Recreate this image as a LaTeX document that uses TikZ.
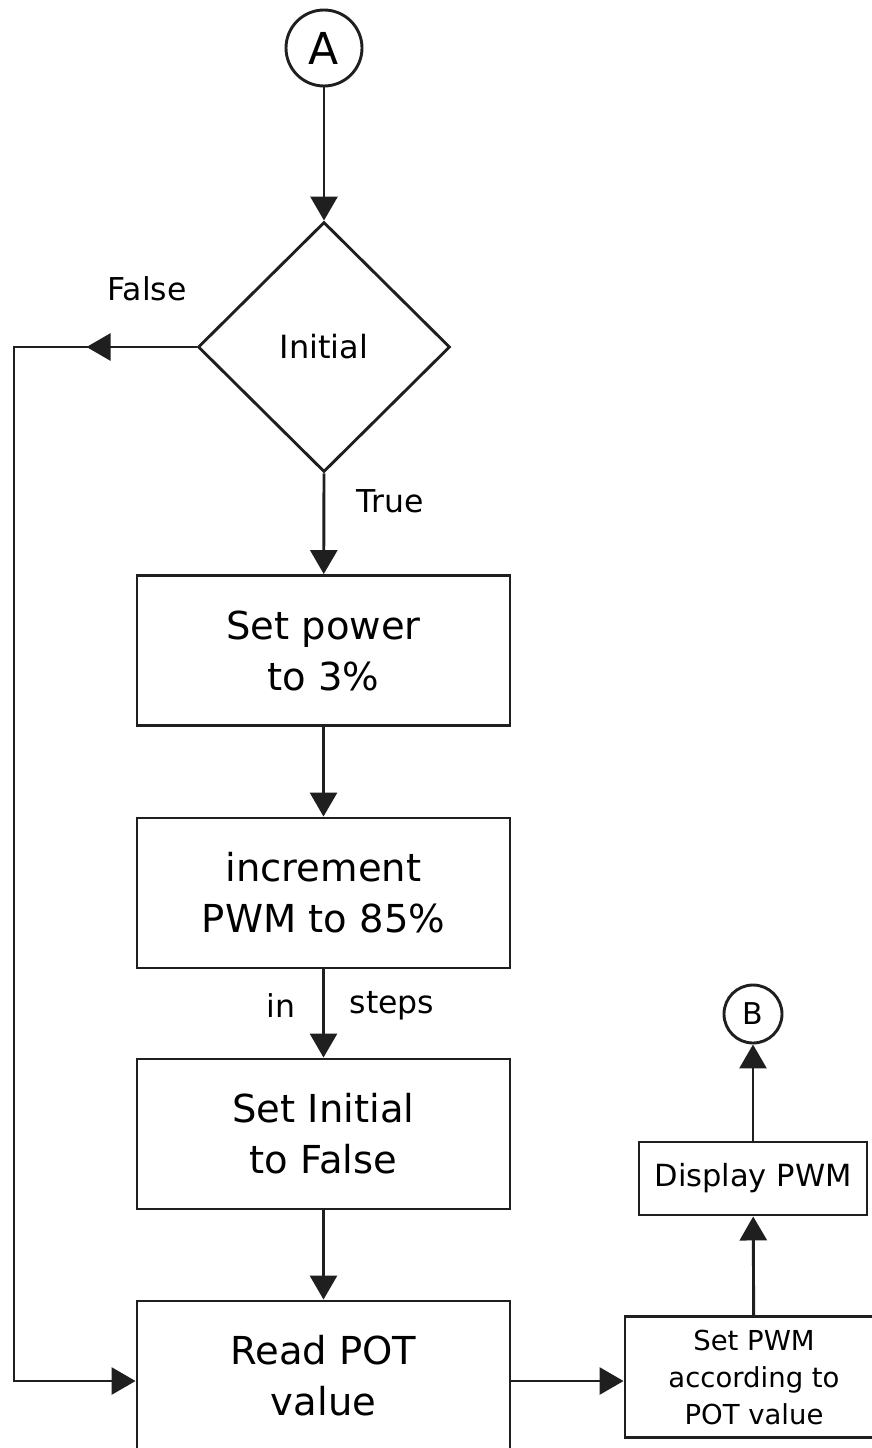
\documentclass[tikz,border=0pt]{standalone}
\usepackage{fontspec}
\setmainfont{DejaVu Sans}
\usetikzlibrary{shapes.geometric,arrows.meta,decorations.markings}
\begin{document}
\begin{tikzpicture}[x=1pt,y=-1pt,
  ln/.style={line width=2.9pt,draw=black!88},
  arr/.style={ln,-{Triangle[length=24pt,width=27pt]}},
  bigbox/.style={ln,rectangle,minimum width=373pt,minimum height=150pt,align=center,
    font=\fontsize{38.5}{51}\selectfont,inner sep=0pt},
  smallbox/.style={ln,rectangle,align=center,inner sep=0pt,font=\fontsize{27.5}{37}\selectfont},
  conn/.style={ln,circle,inner sep=0pt},
  lbl/.style={font=\fontsize{31.5}{36}\selectfont,inner sep=0pt}]
\useasboundingbox (0,0) rectangle (872,1448);
\clip (0,0) rectangle (872,1448);
\node[conn,minimum size=76pt,font=\fontsize{44}{44}\selectfont] (A) at (324,48) {A};
\node[ln,diamond,shape aspect=1,minimum width=252pt,minimum height=250pt,inner sep=0pt,
  font=\fontsize{32}{36}\selectfont] (D) at (324,347) {Initial};
\node[bigbox] (b1) at (323.5,650.5) {Set power\\to 3\%};
\node[bigbox] (b2) at (323.5,893) {increment\\PWM to 85\%};
\node[bigbox] (b3) at (323.5,1134) {Set Initial\\to False};
\node[bigbox] (b4) at (323.5,1376) {Read POT\\value};
\node[smallbox,minimum width=258pt,minimum height=121pt] (s) at (754,1377) {Set PWM\\according to\\POT value};
\node[smallbox,minimum width=228pt,minimum height=73pt,font=\fontsize{30.5}{36}\selectfont] (disp) at (753,1178.5) {Display PWM};
\node[conn,minimum size=58pt,font=\fontsize{30}{30}\selectfont] (B) at (753,1014) {B};
\node[lbl] (lf) at (147,289) {False};
\node[lbl] (lt) at (390,501) {True};
\node[lbl] (lin) at (281,1006) {in};
\node[lbl] (lst) at (392,1006) {steps};
\coordinate (c1) at (14,347);
\coordinate (c2) at (14,1381);
\draw[arr] (A) -- (D.north);
\draw[arr] (D.south) -- (b1);
\draw[arr] (b1) -- (b2);
\draw[arr] (b2) -- (b3);
\draw[arr] (b3) -- (b4);
\draw[arr] (b4.east |- c2) -- (s.west |- c2);
\draw[arr] (s) -- (disp);
\draw[arr] (disp) -- (B);
\draw[arr,
  postaction={decorate},
  decoration={markings,mark=at position 110pt with {\arrow[line width=2.9pt,draw=black!88,fill=black!88]{Triangle[length=24pt,width=27pt]}}}]
  (D.west) -- (c1) -- (c2) -- (b4.west |- c2);
\end{tikzpicture}
\end{document}
